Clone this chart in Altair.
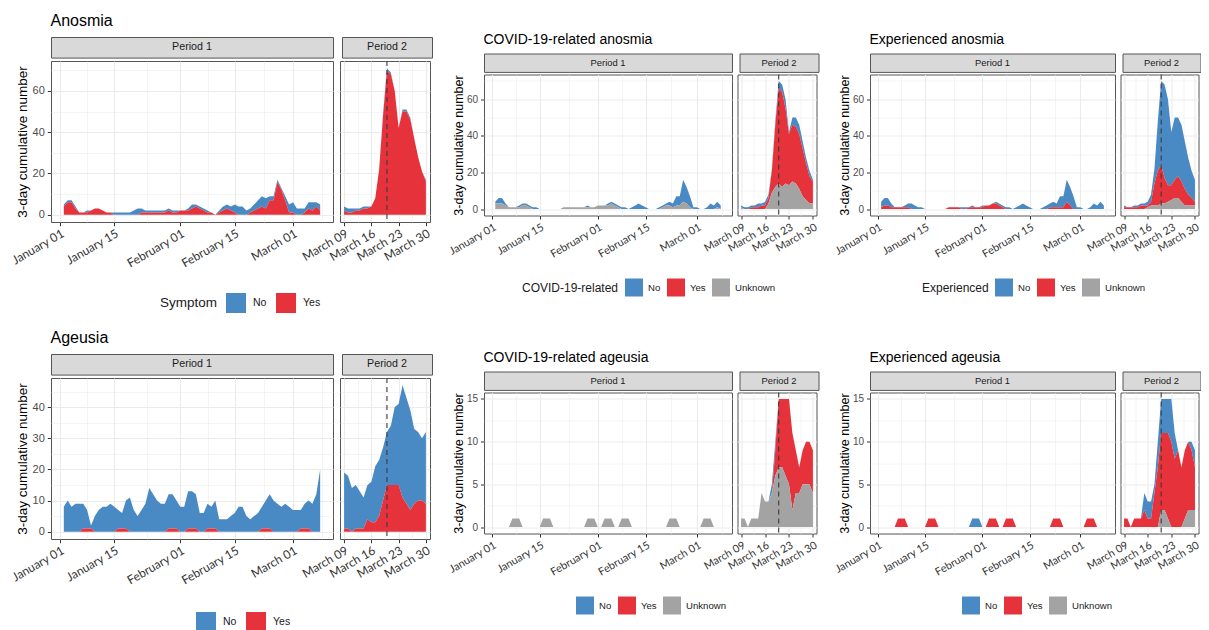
import json
from datetime import datetime, timedelta, timezone

import altair as alt
import pandas as pd

# ---------------- data ----------------
P1_START = datetime(2020, 1, 2)
P1_DAYS = 67
P2_START = datetime(2020, 3, 9)
P2_DAYS = 22
p1_dates = [(P1_START + timedelta(days=i)).strftime("%Y-%m-%d") for i in range(P1_DAYS)]
p2_dates = [(P2_START + timedelta(days=i)).strftime("%Y-%m-%d") for i in range(P2_DAYS)]
cutoff_date = "2020-03-20"

p1_major = ["2020-01-01", "2020-01-15", "2020-02-01", "2020-02-15", "2020-03-01"]
p2_major = ["2020-03-09", "2020-03-16", "2020-03-23", "2020-03-30"]

# Anosmia (Symptom)
anosmia_no_p1 = [1,1,1,1,0,0,1,0,0,0, 0,0,0,1,1,1,1,1,2,3, 2,1,1,1,1,1,1,1,1,1,
                 0,0,1,2,1,1,1,1,0,0, 1,2,2,2,4,4,4,2,2,3, 4,5,5,2,2,1,1,2,4,5, 3,3,2,3,4,2,3]
anosmia_yes_p1 = [4,6,6,3,1,1,1,2,3,3, 2,1,1,0,0,0,0,0,0,0, 1,1,1,1,1,1,1,2,1,1,
                  2,2,2,3,4,3,2,1,1,0, 1,2,3,2,1,0,0,0,1,2, 3,4,3,7,7,16,12,7,1,1, 0,0,1,3,2,4,2]
anosmia_no_p2 = [2,2,2,1,1,1,1,0,0,0,1,1,1,0,0,1,1,1,0,0,0,1]
anosmia_yes_p2 = [2,1,1,2,2,3,3,4,8,22,48,70,68,60,42,50,50,46,37,28,21,16]

# COVID-19-related anosmia
covid_anosmia_no_p1 = [1,3,3,1,0,0,0,1,1,1, 1,1,1,0,0,0,0,0,0,0, 0,0,0,0,0,0,0,1,0,0,
                       0,0,0,1,1,1,1,1,1,0, 1,2,3,2,1,0,0,0,1,1, 1,2,2,5,5,12,9,6,1,1, 0,0,1,3,2,3,2]
covid_anosmia_yes_p1 = [0] * 67
covid_anosmia_unknown_p1 = [3,3,3,2,1,1,1,1,2,2, 1,0,0,0,0,0,0,0,0,0, 1,1,1,1,1,1,1,1,1,1,
                            2,2,2,2,3,2,1,0,0,0, 0,0,0,0,0,0,0,0,0,1, 2,2,1,2,2,4,3,1,0,0, 0,0,0,0,0,1,0]
covid_anosmia_no_p2 = [1,1,1,1,1,2,1,2,2,1,2,4,4,5,1,4,5,5,4,3,3,1]
covid_anosmia_yes_p2 = [0,0,0,1,1,1,2,2,3,12,34,52,52,41,28,31,31,30,26,20,15,12]
covid_anosmia_unknown_p2 = [1,0,0,0,0,0,0,0,3,9,12,14,12,14,13,15,14,11,7,5,3,3]

# Experienced anosmia
exp_anosmia_no_p1 = [3,4,4,2,0,0,0,1,2,3, 2,1,1,0,0,0,0,0,0,0, 0,0,0,0,1,1,0,1,0,0,
                     1,0,0,0,1,1,1,1,1,0, 1,2,3,2,1,0,0,0,1,2, 2,3,2,6,6,12,10,7,1,1, 0,0,1,3,2,4,2]
exp_anosmia_yes_p1 = [1,2,2,1,1,1,1,1,1,0, 0,0,0,0,0,0,0,0,0,0, 1,1,1,1,0,0,1,1,1,1,
                      1,2,2,3,3,2,1,0,0,0, 0,0,0,0,0,0,0,0,0,0, 1,1,1,1,1,4,2,0,0,0, 0,0,0,0,0,0,0]
exp_anosmia_unknown_p1 = [0] * 67
exp_anosmia_no_p2 = [1,0,0,1,1,1,1,2,4,8,27,46,51,47,29,34,32,31,26,20,15,12]
exp_anosmia_yes_p2 = [1,1,1,1,1,2,2,1,2,12,19,21,14,9,8,10,12,11,9,6,4,2]
exp_anosmia_unknown_p2 = [0,0,0,0,0,0,0,1,2,2,2,3,3,4,5,6,6,4,2,2,2,2]

# Ageusia (Symptom)
ageusia_no_p1 = [8,10,8,9,9,8,6,1,5,7, 8,8,9,8,6,5,9,11,7,5, 7,9,14,12,10,9,9,11,11,9,
                 8,8,12,12,11,6,6,8,7,9, 4,4,4,5,6,8,8,5,4,5, 6,7,9,11,10,9,8,9,8,7, 7,6,8,9,9,12,20]
ageusia_yes_p1 = [0,0,0,0,0,1,1,1,0,0, 0,0,0,0,1,1,1,0,0,0, 0,0,0,0,0,0,0,1,1,1,
                  0,0,1,1,1,0,0,1,1,1, 0,0,0,0,0,0,0,0,0,0, 0,1,1,1,0,0,0,0,0,0, 0,1,1,1,0,0,0]
ageusia_no_p2 = [18,17,14,14,12,10,11,13,18,18,17,17,19,25,26,36,34,32,24,22,20,23]
ageusia_yes_p2 = [1,1,0,1,1,1,4,3,3,5,10,15,15,15,15,11,9,7,9,10,10,9]

# COVID-19-related ageusia
covid_ageusia_no_p1 = [0] * 67
covid_ageusia_yes_p1 = [0] * 67
covid_ageusia_unknown_p1 = [0,0,0,0,0,1,1,1,0,0, 0,0,0,0,1,1,1,0,0,0, 0,0,0,0,0,0,0,1,1,1,
                            0,0,1,1,1,0,0,1,1,1, 0,0,0,0,0,0,0,0,0,0, 0,1,1,1,0,0,0,0,0,0, 0,1,1,1,0,0,0]
covid_ageusia_no_p2 = [0,0,0,0,0,0,0,0,0,1,1,0,0,0,0,0,0,0,0,0,0,0]
covid_ageusia_yes_p2 = [0,0,0,0,0,0,0,0,0,0,3,8,8,9,10,9,5,3,4,5,5,5]
covid_ageusia_unknown_p2 = [1,1,0,1,1,1,4,3,3,4,6,7,7,6,5,2,4,4,5,5,5,4]

# Experienced ageusia
exp_ageusia_no_p1 = [0,0,0,0,0,0,0,0,0,0, 0,0,0,0,0,0,0,0,0,0, 0,0,0,0,0,0,0,1,1,1,
                     0,0,0,0,0,0,0,0,0,0, 0,0,0,0,0,0,0,0,0,0, 0,0,0,0,0,0,0,0,0,0, 0,0,0,0,0,0,0]
exp_ageusia_yes_p1 = [0,0,0,0,0,1,1,1,0,0, 0,0,0,0,1,1,1,0,0,0, 0,0,0,0,0,0,0,0,0,0,
                      0,0,1,1,1,0,0,1,1,1, 0,0,0,0,0,0,0,0,0,0, 0,1,1,1,0,0,0,0,0,0, 0,1,1,1,0,0,0]
exp_ageusia_unknown_p1 = [0] * 67
exp_ageusia_no_p2 = [0,0,0,0,0,0,2,2,2,1,3,4,4,4,5,3,0,0,0,0,1,2]
exp_ageusia_yes_p2 = [1,1,0,1,1,1,2,1,1,4,7,9,9,10,10,8,9,7,8,8,7,5]
exp_ageusia_unknown_p2 = [0,0,0,0,0,0,0,0,0,0,0,2,2,1,0,0,0,0,1,2,2,2]

COLORS = {"No": "#4A8AC4", "Yes": "#E5323B", "Unknown": "#A3A3A3"}
STACK_ORDER = {"Unknown": 0, "Yes": 1, "No": 2}

# ---------------- helpers ----------------
FONT = "Liberation Sans"

SIZES = {
    "big": dict(w1=282, w2=90, gap=7, strip_h=20.6, plot_h=161, title_fs=16, title_off=8,
                ytitle_fs=13.5, ytitle_pad=3, ylab_fs=11, xlab_fs=12, strip_fs=10.7,
                leg_title_fs=13.5, leg_lab_fs=10.5, sym=20, tick=3.7, lab_off=7, col_pad=9,
                title_pad=8),
    "small": dict(w1=248, w2=79, gap=5.5, strip_h=18.4, plot_h=141, title_fs=14, title_off=6,
                  ytitle_fs=12.5, ytitle_pad=1, ylab_fs=10, xlab_fs=10.8, strip_fs=9.4,
                  leg_title_fs=12, leg_lab_fs=9.6, sym=18, tick=3.5, lab_off=5, col_pad=6,
                  title_pad=6),
}
SIZES["small_r"] = dict(SIZES["small"], w1=245, w2=78)


def to_ms(dt):
    return int(dt.replace(tzinfo=timezone.utc).timestamp() * 1000)


def parse(s):
    return datetime.strptime(s, "%Y-%m-%d")


def expanded_domain(dates):
    lo, hi = parse(dates[0]), parse(dates[-1])
    pad = (hi - lo) * 0.05
    return [to_ms(lo - pad), to_ms(hi + pad)]


def major_minor(major_strs):
    majors = [parse(s) for s in major_strs]
    minors = [majors[i] + (majors[i + 1] - majors[i]) / 2 for i in range(len(majors) - 1)]
    minors.append(majors[-1] + (majors[-1] - majors[-2]) / 2)
    return [to_ms(d) for d in majors], [to_ms(d) for d in minors]


def long_df(dates, series):
    rows = []
    for cat, vals in series.items():
        for d, v in zip(dates, vals):
            rows.append({"date": d, "cat": cat, "value": v, "ord": STACK_ORDER[cat]})
    return pd.DataFrame(rows)


def x_axis(major_strs, sz):
    majors, minors = major_minor(major_strs)
    test = f"indexof({json.dumps(majors)}, toNumber(datum.value)) >= 0"
    return alt.Axis(
        values=sorted(majors + minors),
        labelExpr=f"{test} ? utcFormat(datum.value, '%B %d') : ''",
        labelAngle=-30, labelAlign="right", labelBaseline="top",
        labelFont="Lato", labelFontSize=sz["xlab_fs"], labelColor="#333333",
        labelOverlap=False, labelFlush=False, labelPadding=2,
        tickSize=sz["tick"], tickColor="#333333",
        tickOpacity={"condition": {"test": test, "value": 1}, "value": 0},
        gridColor="#EBEBEB",
        gridWidth={"condition": {"test": test, "value": 1.1}, "value": 0.55},
        domain=False, title=None,
    )


def y_axis(majors, minors, sz, show):
    test = f"indexof({json.dumps(majors)}, datum.value) >= 0"
    kw = dict(
        values=sorted(majors + minors), gridColor="#EBEBEB",
        gridWidth={"condition": {"test": test, "value": 1.1}, "value": 0.55},
        domain=False,
    )
    if show:
        kw.update(
            labelExpr=f"{test} ? datum.label : ''", labelFont=FONT,
            labelFontSize=sz["ylab_fs"], labelColor="#4D4D4D", labelPadding=3,
            tickSize=sz["tick"], tickColor="#333333",
            tickOpacity={"condition": {"test": test, "value": 1}, "value": 0},
            title="3-day cumulative number", titleFont=FONT, titleFontSize=sz["ytitle_fs"],
            titleFontWeight="normal", titleColor="#000000", titlePadding=sz["ytitle_pad"],
        )
    else:
        kw.update(labels=False, ticks=False, title=None)
    return alt.Axis(**kw)


def plot(df, dates, major_strs, y_dom, y_major, y_minor, color_enc, width, sz, first, rule):
    xsc = alt.Scale(type="utc", domain=expanded_domain(dates))
    xax = x_axis(major_strs, sz)
    area = alt.Chart(df).mark_area(interpolate="linear", strokeWidth=0, opacity=1).encode(
        x=alt.X("date:T", scale=xsc, axis=xax),
        y=alt.Y("value:Q", stack="zero", scale=alt.Scale(domain=y_dom, nice=False, zero=False),
                axis=y_axis(y_major, y_minor, sz, first)),
        color=color_enc,
        order=alt.Order("ord:Q", sort="ascending"),
    )
    layers = [area]
    if rule:
        layers.append(
            alt.Chart(pd.DataFrame({"date": [cutoff_date]}))
            .mark_rule(strokeDash=[5, 4], color="#3A3A3A", strokeWidth=1.1)
            .encode(x=alt.X("date:T", scale=xsc, axis=xax))
        )
    return alt.layer(*layers).properties(width=width, height=sz["plot_h"])


def strip(label, width, sz):
    return (
        alt.Chart(pd.DataFrame({"label": [label]}))
        .mark_text(font=FONT, fontSize=sz["strip_fs"], color="#1A1A1A")
        .encode(text="label:N")
        .properties(width=width, height=sz["strip_h"],
                    view=alt.ViewBackground(fill="#D9D9D9", stroke="#555555", strokeWidth=1))
    )


def panel(title, legend_title, cats, s1, s2, y_major, y_minor, size, legend_xy):
    sz = SIZES[size]
    totals = [sum(v) for v in zip(*(s1[c] for c in cats))] + \
             [sum(v) for v in zip(*(s2[c] for c in cats))]
    ymax = max(totals)
    y_dom = [-0.05 * ymax, 1.05 * ymax]
    leg_kw = dict(
        orient="none", legendX=legend_xy[0], legendY=legend_xy[1], direction="horizontal",
        symbolType="square", symbolSize=sz["sym"] ** 2, symbolStrokeWidth=0,
        labelFont=FONT, labelFontSize=sz["leg_lab_fs"], labelColor="#1A1A1A",
        labelOffset=sz["lab_off"], columnPadding=sz["col_pad"],
    )
    if legend_title:
        leg_kw.update(title=legend_title, titleOrient="left", titleFont=FONT,
                      titleFontSize=sz["leg_title_fs"], titleFontWeight="normal",
                      titleColor="#1A1A1A", titlePadding=sz["title_pad"],
                      titleAnchor="middle", titleBaseline="middle")
    else:
        leg_kw.update(title=None)
    color_enc = alt.Color(
        "cat:N",
        scale=alt.Scale(domain=cats, range=[COLORS[c] for c in cats]),
        legend=alt.Legend(**leg_kw),
    )
    df1 = long_df(p1_dates, s1)
    df2 = long_df(p2_dates, s2)
    p1 = plot(df1, p1_dates, p1_major, y_dom, y_major, y_minor, color_enc, sz["w1"], sz, True, False)
    p2 = plot(df2, p2_dates, p2_major, y_dom, y_major, y_minor, color_enc, sz["w2"], sz, False, True)
    strips = alt.hconcat(strip("Period 1", sz["w1"], sz), strip("Period 2", sz["w2"], sz),
                         spacing=sz["gap"]).properties(
        title=alt.TitleParams(text=title, anchor="start", font=FONT, fontSize=sz["title_fs"],
                              fontWeight="normal", color="#000000", offset=sz["title_off"]))
    plots = alt.hconcat(p1, p2, spacing=sz["gap"], bounds="flush").resolve_scale(y="independent")
    return alt.vconcat(strips, plots, spacing=0)


TWO = ["No", "Yes"]
THREE = ["No", "Yes", "Unknown"]

A = panel("Anosmia", "Symptom", TWO,
          {"No": anosmia_no_p1, "Yes": anosmia_yes_p1},
          {"No": anosmia_no_p2, "Yes": anosmia_yes_p2},
          [0, 20, 40, 60], [10, 30, 50, 70], "big", (109, 256))
B = panel("COVID-19-related anosmia", "COVID-19-related", THREE,
          {"No": covid_anosmia_no_p1, "Yes": covid_anosmia_yes_p1, "Unknown": covid_anosmia_unknown_p1},
          {"No": covid_anosmia_no_p2, "Yes": covid_anosmia_yes_p2, "Unknown": covid_anosmia_unknown_p2},
          [0, 20, 40, 60], [10, 30, 50, 70], "small", (38, 225))
C = panel("Experienced anosmia", "Experienced", THREE,
          {"No": exp_anosmia_no_p1, "Yes": exp_anosmia_yes_p1, "Unknown": exp_anosmia_unknown_p1},
          {"No": exp_anosmia_no_p2, "Yes": exp_anosmia_yes_p2, "Unknown": exp_anosmia_unknown_p2},
          [0, 20, 40, 60], [10, 30, 50, 70], "small_r", (52, 225))
D = panel("Ageusia", None, TWO,
          {"No": ageusia_no_p1, "Yes": ageusia_yes_p1},
          {"No": ageusia_no_p2, "Yes": ageusia_yes_p2},
          [0, 10, 20, 30, 40], [5, 15, 25, 35, 45], "big", (145, 258))
E = panel("COVID-19-related ageusia", None, THREE,
          {"No": covid_ageusia_no_p1, "Yes": covid_ageusia_yes_p1, "Unknown": covid_ageusia_unknown_p1},
          {"No": covid_ageusia_no_p2, "Yes": covid_ageusia_yes_p2, "Unknown": covid_ageusia_unknown_p2},
          [0, 5, 10, 15], [2.5, 7.5, 12.5], "small", (92, 225))
F = panel("Experienced ageusia", None, THREE,
          {"No": exp_ageusia_no_p1, "Yes": exp_ageusia_yes_p1, "Unknown": exp_ageusia_unknown_p1},
          {"No": exp_ageusia_no_p2, "Yes": exp_ageusia_yes_p2, "Unknown": exp_ageusia_unknown_p2},
          [0, 5, 10, 15], [2.5, 7.5, 12.5], "small_r", (92, 225))

row1 = alt.hconcat(A, B, C, spacing=13, center=True).resolve_scale(color="independent")
row2 = alt.hconcat(D, E, F, spacing=13, center=True).resolve_scale(color="independent")

chart = (
    alt.vconcat(row1, row2, spacing=16)
    .resolve_scale(color="independent")
    .properties(padding={"left": 0, "top": 4, "right": 0, "bottom": 0}, background="white")
    .configure(font=FONT)
    .configure_view(stroke="#555555", strokeWidth=1)
)

chart.save("out.html", embed_options={"renderer": "svg", "actions": False})
